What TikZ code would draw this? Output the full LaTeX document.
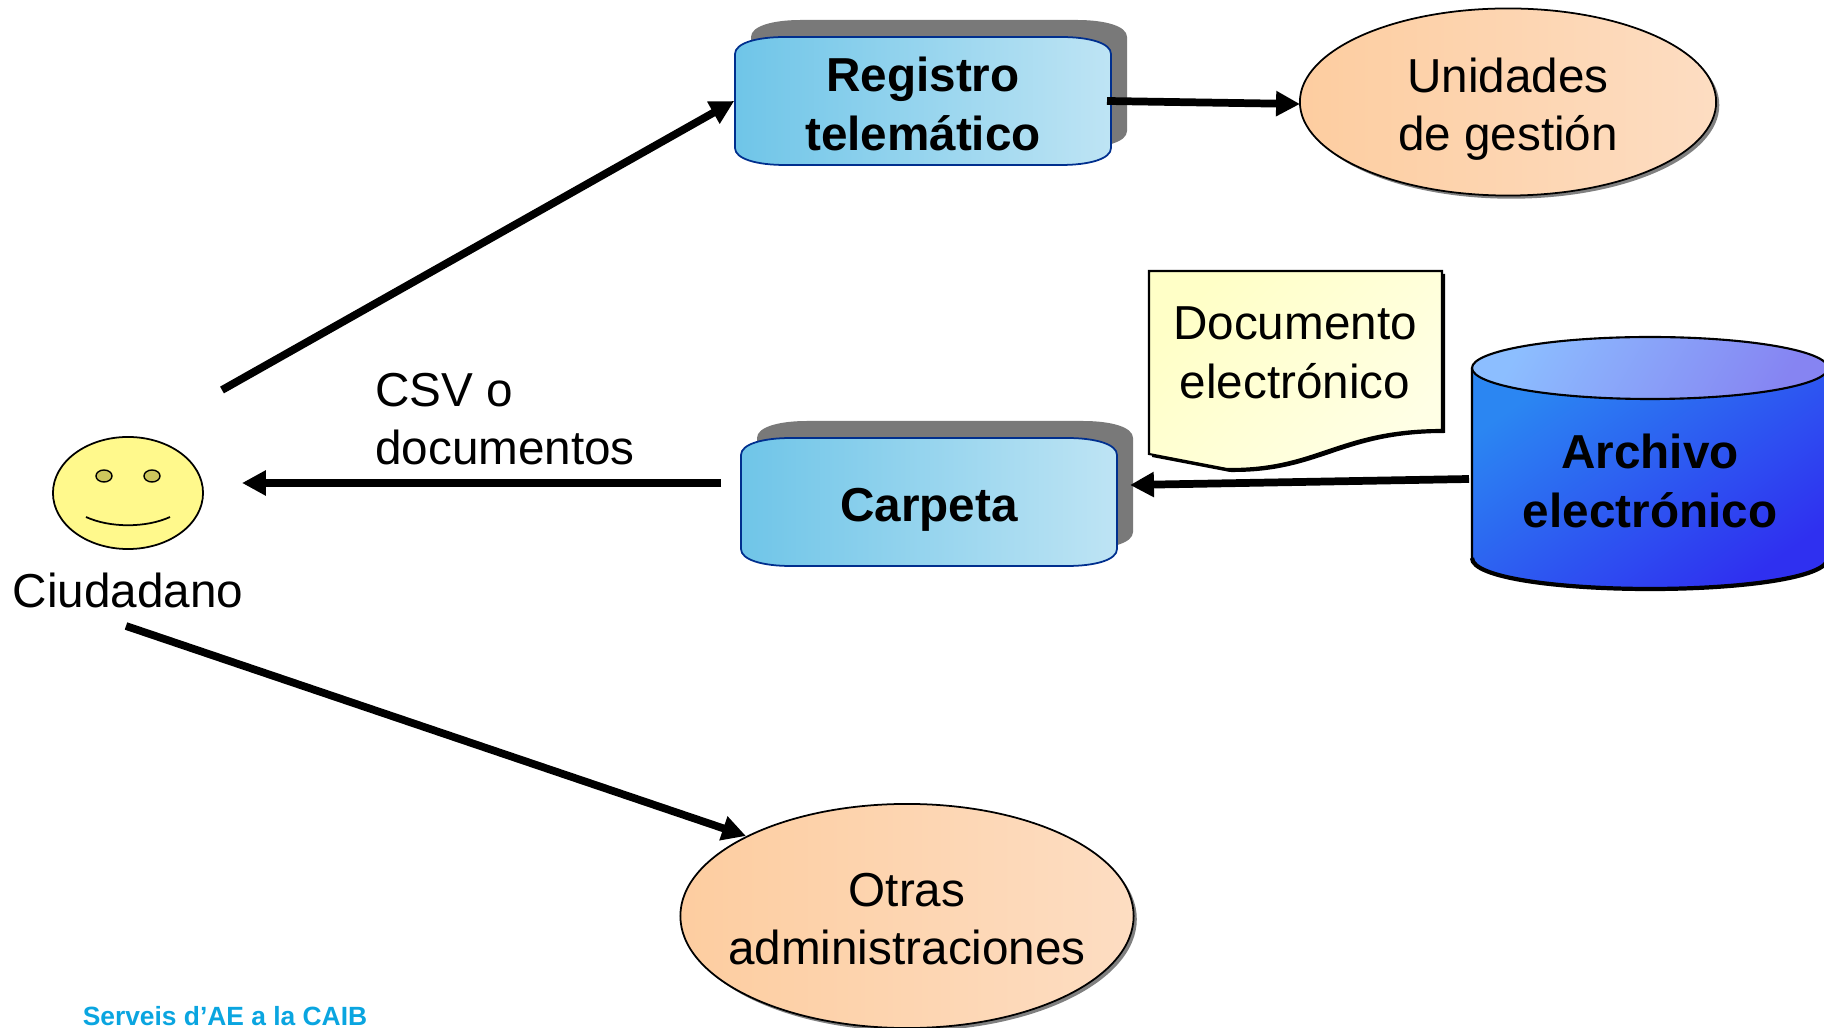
\documentclass[tikz,border=0pt]{standalone}
\usepackage{fontspec}
\setmainfont{Liberation Sans}
\usetikzlibrary{arrows.meta, shadows, calc, shapes.geometric}

\definecolor{slabL}{HTML}{6FC5E8}
\definecolor{slabR}{HTML}{BEE4F4}
\definecolor{peachL}{HTML}{FDCDA0}
\definecolor{peachR}{HTML}{FDDDC2}
\definecolor{navyline}{HTML}{002F8E}
\definecolor{footblue}{HTML}{0AA5E0}
\definecolor{cylA}{HTML}{2B86F2}
\definecolor{cylB}{HTML}{2F30F0}
\definecolor{lidA}{HTML}{8CBEFF}
\definecolor{lidB}{HTML}{8684F2}

\tikzset{
  lbl/.style={font=\fontsize{13.55}{16.6}\selectfont, align=center, inner sep=0pt},
  lblb/.style={font=\fontsize{13.55}{16.6}\selectfont\bfseries, align=center, inner sep=0pt},
  flow/.style={line width=2.2pt, -{Triangle[length=6.8pt,width=6.8pt]}},
  peach/.style={ellipse, draw=black, line width=0.5pt, left color=peachL, right color=peachR,
    drop shadow={shadow xshift=0.9pt, shadow yshift=-0.9pt, fill=gray, opacity=1},
    inner sep=0pt},
}

\newcommand\slabpath{(-188,-47) .. controls (-188,-58) and (-166,-64) .. (-138,-64) -- (138,-64) .. controls (166,-64) and (188,-58) .. (188,-47) -- (188,47) .. controls (188,58) and (166,64) .. (138,64) -- (-138,64) .. controls (-166,64) and (-188,58) .. (-188,47) -- cycle}
\newcommand\slab[4]{
  \begin{scope}[shift={#2}]
    \fill[gray!95!black, shift={(16,-17)}] \slabpath;
    \path[draw=navyline, line width=0.5pt, left color=slabL, right color=slabR] \slabpath;
  \end{scope}
  \node[inner sep=0pt, minimum width=3.76cm, minimum height=1.28cm] (#1) at #2 {};
  \node[lblb] (#1txt) at ($#2+(0,#3)$) {#4};
}

\begin{document}
\begin{tikzpicture}[x=0.01cm, y=-0.01cm]
\useasboundingbox (0,0) rectangle (1824,1028);
\clip (0,0) rectangle (1824,1028);

\slab{registro}{(923,101)}{3}{Registro\\telemático}
\slab{carpeta}{(929,502)}{8}{Carpeta}

\node[peach, minimum width=4.16cm, minimum height=1.87cm] (unidades) at (1508,102) {};
\node[lbl] (unidadestxt) at (1508,109) {Unidades\\de gestión};
\node[peach, minimum width=4.53cm, minimum height=2.24cm] (otras) at (907,916) {};
\node[lbl] (otrastxt) at (907,919) {Otras\\administraciones};

% smiley
\node[ellipse, draw=black, line width=0.5pt, fill=yellow!45, minimum width=1.5cm, minimum height=1.12cm, inner sep=0pt] (cara) at (128,493) {};
\node[ellipse, draw=black, line width=0.4pt, fill=yellow!55!gray, minimum width=0.16cm, minimum height=0.12cm, inner sep=0pt] (ojoA) at (104,476) {};
\node[ellipse, draw=black, line width=0.4pt, fill=yellow!55!gray, minimum width=0.16cm, minimum height=0.12cm, inner sep=0pt] (ojoB) at (152,476) {};
\draw[line width=0.5pt] (86,517) .. controls (110,528) and (146,528) .. (170,517);
\node[lbl] (ciudadano) at (128,590) {Ciudadano};

% documento
\path[fill=black] (1152,274) -- (1445,274) -- (1445,433) .. controls (1341,433) and (1321,473) .. (1230,472) -- (1152,457) -- cycle;
\path[draw=black, line width=0.6pt, top color=yellow!22, bottom color=yellow!10, shading angle=45]
  (1149,271) -- (1442,271) -- (1442,430) .. controls (1338,430) and (1318,470) .. (1227,469) -- (1149,454) -- cycle;
\node[lbl] (documento) at (1295,353) {Documento\\electrónico};

% archivo
\shade[draw=black, line width=0.6pt, top color=cylA, bottom color=cylB, shading angle=35]
  (1472,369) -- (1472,558) .. controls (1472,578) and (1560,589) .. (1650,589) .. controls (1740,589) and (1828,578) .. (1828,558) -- (1828,369) -- cycle;
\draw[black, line width=1.2pt] (1472,558) .. controls (1472,578) and (1560,589) .. (1650,589) .. controls (1740,589) and (1828,578) .. (1828,558);
\shade[draw=black, line width=0.6pt, top color=lidA, bottom color=lidB, shading angle=60]
  (1650,368) ellipse [x radius=178, y radius=31];
\node[lblb] (archivo) at (1650,481) {Archivo\\electrónico};

\node[lbl, align=left] (csv) at (505,419) {CSV o\\documentos};
\node[font=\fontsize{7.5}{9}\selectfont\bfseries, text=footblue, inner sep=0pt] (serveis) at (225,1016) {Serveis d’AE a la CAIB};

\coordinate (salidaA) at (222,390);
\coordinate (salidaB) at (126,626);
\coordinate (salidaC) at (721,483);
\coordinate (llegaC) at (242,483);
\coordinate (salidaD) at (1469,479);
\coordinate (llegaD) at (1130,485);
\coordinate (llegaB) at (746,836);
\coordinate (salidaE) at (1107,101);
\coordinate (llegaE) at (1300,104);

\draw[flow] (salidaA) -- (registro.west);
\draw[flow] (salidaE) -- (llegaE);
\draw[flow] (salidaC) -- (llegaC);
\draw[flow] (salidaD) -- (llegaD);
\draw[flow] (salidaB) -- (llegaB);
\end{tikzpicture}
\end{document}
